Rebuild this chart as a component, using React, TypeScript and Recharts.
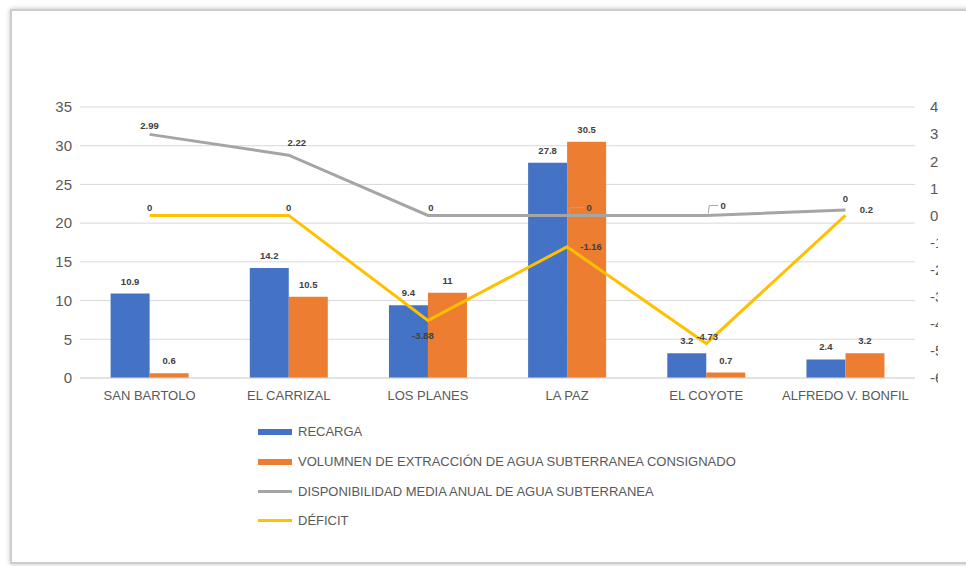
import { ComposedChart, Bar, Line, XAxis, YAxis, CartesianGrid, LabelList } from "recharts";

// values (hm³/año)
const acuiferos = ["SAN BARTOLO", "EL CARRIZAL", "LOS PLANES", "LA PAZ", "EL COYOTE", "ALFREDO V. BONFIL"];
const recarga = [10.9, 14.2, 9.4, 27.8, 3.2, 2.4];
const extraccion = [0.6, 10.5, 11, 30.5, 0.7, 3.2];
const disponibilidad = [2.99, 2.22, 0, 0, 0, 0.2];
const deficit = [0, 0, -3.88, -1.16, -4.73, 0];

const leftTicks = [0, 5, 10, 15, 20, 25, 30, 35];
const rightTicks = [-6, -5, -4, -3, -2, -1, 0, 1, 2, 3, 4];

const series = [
  { key: "recarga", name: "RECARGA", color: "#4472c4", kind: "bar" },
  { key: "extraccion", name: "VOLUMNEN DE EXTRACCIÓN DE AGUA SUBTERRANEA CONSIGNADO", color: "#ed7d31", kind: "bar" },
  { key: "disponibilidad", name: "DISPONIBILIDAD MEDIA ANUAL DE AGUA SUBTERRANEA", color: "#a5a5a5", kind: "line" },
  { key: "deficit", name: "DÉFICIT", color: "#ffc000", kind: "line" },
];

const data = acuiferos.map((name, i) => ({
  name,
  recarga: recarga[i],
  extraccion: extraccion[i],
  disponibilidad: disponibilidad[i],
  deficit: deficit[i],
}));

const FONT = "'Liberation Sans', Arial, sans-serif";
const TEXT = "#595959";
const LABEL = "#404040";

// where Excel placed each data label relative to its point
type Nudge = { dx: number; dy: number; leader?: boolean };
const greyNudge: Nudge[] = [
  { dx: 0, dy: -9 },
  { dx: 8, dy: -13 },
  { dx: 3, dy: -8 },
  { dx: 22, dy: -8, leader: true },
  { dx: 17, dy: -10, leader: true },
  { dx: 21, dy: 0 },
];
const yellowNudge: Nudge[] = [
  { dx: 0, dy: -8 },
  { dx: 0, dy: -8 },
  { dx: -5, dy: 15 },
  { dx: 24, dy: 0 },
  { dx: 1, dy: -7 },
  { dx: 0, dy: -17 },
];

const lineLabel = (nudge: Nudge[]) => (props: any) => {
  const { x, y, value, index } = props;
  const n = nudge[index] ?? { dx: 0, dy: -8 };
  const tx = x + n.dx;
  const ty = y + n.dy;
  return (
    <g key={`lbl-${index}`}>
      {n.leader && (
        <path
          d={`M${x + 2},${y - 2} L${x + 3},${ty} L${tx - 5},${ty}`}
          fill="none"
          stroke="#a5a5a5"
          strokeWidth={1}
        />
      )}
      <text
        x={tx}
        y={ty}
        textAnchor="middle"
        dominantBaseline="central"
        fill={LABEL}
        fontSize={9.5}
        fontWeight="bold"
        fontFamily={FONT}
      >
        {value}
      </text>
    </g>
  );
};

function LegendBox() {
  return (
    <div style={{ position: "absolute", left: 258, top: 417, fontFamily: FONT }}>
      {series.map((s) => (
        <div key={s.key} style={{ display: "flex", alignItems: "center", height: 29.7 }}>
          <span
            style={{
              display: "inline-block",
              width: 34,
              height: s.kind === "bar" ? 6 : 3,
              background: s.color,
            }}
          />
          <span style={{ marginLeft: 6, fontSize: 13, color: TEXT }}>{s.name}</span>
        </div>
      ))}
    </div>
  );
}

export default function App() {
  return (
    <div
      style={{
        position: "absolute",
        left: 0,
        top: 0,
        width: 966,
        height: 566,
        overflow: "hidden",
        background: "#fff",
      }}
    >
      <div
        style={{
          position: "absolute",
          left: 10,
          top: 9,
          width: 990,
          height: 551,
          border: "2px solid #cdcdcd",
          boxShadow: "0 0 5px rgba(0,0,0,0.25)",
          background: "#fff",
        }}
      />
      {/* the source screenshot cuts the secondary axis labels off */}
      <div style={{ position: "absolute", left: 0, top: 0, width: 938, height: 420, overflow: "hidden" }}>
        <ComposedChart
          width={960}
          height={420}
          data={data}
          margin={{ top: 107, right: 5, left: 30, bottom: 12 }}
          barCategoryGap="22%"
          barGap={0}
          style={{ fontFamily: FONT }}
        >
          <CartesianGrid yAxisId="left" vertical={false} stroke="#d9d9d9" />
          <XAxis
            dataKey="name"
            axisLine={{ stroke: "#d9d9d9" }}
            tickLine={false}
            tickMargin={7}
            interval={0}
            tick={{ fill: TEXT, fontSize: 13 }}
          />
          <YAxis
            yAxisId="left"
            domain={[0, 35]}
            ticks={leftTicks}
            width={50}
            axisLine={false}
            tickLine={false}
            tick={{ fill: TEXT, fontSize: 15 }}
          />
          <YAxis
            yAxisId="right"
            orientation="right"
            domain={[-6, 4]}
            ticks={rightTicks}
            width={40}
            axisLine={false}
            tickLine={false}
            tickMargin={9}
            tick={{ fill: TEXT, fontSize: 15, textAnchor: "start" }}
          />
          <Bar yAxisId="left" dataKey="recarga" name={series[0].name} fill={series[0].color} isAnimationActive={false}>
            <LabelList dataKey="recarga" position="top" offset={9} fill={LABEL} fontSize={9.5} fontWeight="bold" />
          </Bar>
          <Bar yAxisId="left" dataKey="extraccion" name={series[1].name} fill={series[1].color} isAnimationActive={false}>
            <LabelList dataKey="extraccion" position="top" offset={9} fill={LABEL} fontSize={9.5} fontWeight="bold" />
          </Bar>
          <Line
            yAxisId="right"
            type="linear"
            dataKey="disponibilidad"
            name={series[2].name}
            stroke={series[2].color}
            strokeWidth={3}
            dot={false}
            isAnimationActive={false}
          >
            <LabelList dataKey="disponibilidad" content={lineLabel(greyNudge)} />
          </Line>
          <Line
            yAxisId="right"
            type="linear"
            dataKey="deficit"
            name={series[3].name}
            stroke={series[3].color}
            strokeWidth={3}
            dot={false}
            isAnimationActive={false}
          >
            <LabelList dataKey="deficit" content={lineLabel(yellowNudge)} />
          </Line>
        </ComposedChart>
      </div>
      <LegendBox />
    </div>
  );
}
